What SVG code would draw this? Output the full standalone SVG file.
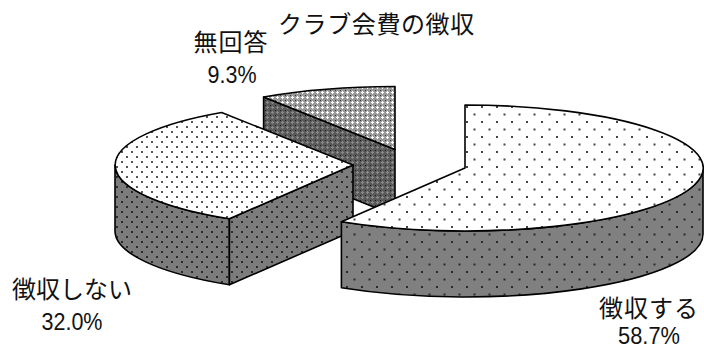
<svg xmlns="http://www.w3.org/2000/svg" width="704" height="350" viewBox="0 0 704 350">
<style>
.edge{stroke:#000;stroke-width:1.6;stroke-linejoin:round}
.jp{font-family:"Noto Sans CJK JP","Liberation Sans",sans-serif;font-size:24px;fill:#111}
.num{font-family:"Liberation Sans",Arial,sans-serif;font-size:23px;fill:#111}
</style>
<defs>
<pattern id="pBigTop" patternUnits="userSpaceOnUse" width="15" height="15">
<rect width="15" height="15" fill="#fff"/>
<rect x="1" y="1" width="2" height="2" fill="#444"/>
<rect x="8.5" y="8.5" width="2" height="2" fill="#444"/>
</pattern>
<pattern id="pBigSide" patternUnits="userSpaceOnUse" width="15" height="15">
<rect width="15" height="15" fill="#808080"/>
<rect x="1" y="1" width="2" height="2" fill="#2a2a2a"/>
<rect x="8.5" y="8.5" width="2" height="2" fill="#2a2a2a"/>
</pattern>
<pattern id="pSmTop" patternUnits="userSpaceOnUse" width="10" height="10">
<rect width="10" height="10" fill="#fff"/>
<rect x="1" y="1" width="2" height="2" fill="#555"/>
<rect x="6" y="6" width="2" height="2" fill="#555"/>
</pattern>
<pattern id="pSmSide" patternUnits="userSpaceOnUse" width="10" height="10">
<rect width="10" height="10" fill="#7c7c7c"/>
<rect x="1" y="1" width="2" height="2" fill="#2a2a2a"/>
<rect x="6" y="6" width="2" height="2" fill="#2a2a2a"/>
</pattern>
<pattern id="pNaTop" patternUnits="userSpaceOnUse" width="5" height="5">
<rect width="5" height="5" fill="#9a9a9a"/>
<rect x="1" y="2" width="3" height="1" fill="#fff"/>
<rect x="2" y="1" width="1" height="3" fill="#fff"/>
<rect x="0" y="0" width="1" height="1" fill="#333"/>
</pattern>
<pattern id="pNaSide" patternUnits="userSpaceOnUse" width="5" height="5">
<rect width="5" height="5" fill="#5a5a5a"/>
<rect x="1" y="2" width="3" height="1" fill="#8a8a8a"/>
<rect x="2" y="1" width="1" height="3" fill="#8a8a8a"/>
<rect x="0" y="0" width="1" height="1" fill="#1a1a1a"/>
</pattern>
</defs>
<rect width="704" height="350" fill="#fff"/>
<g id="slice-na">
<path class="edge" fill="url(#pNaSide)" d="M395,149.5 L263.6,97 L263.6,163 L395,215.5 Z"/>
<path class="edge" fill="url(#pNaTop)" d="M395,149.5 L263.6,97 A238,63 0 0,1 395,86.5 Z"/>
</g>
<g id="slice-no">
<path class="edge" fill="url(#pSmSide)" d="M229.4,218.8 A238,63 0 0,1 115,165 L115,231 A238,63 0 0,0 229.4,284.8 Z"/>
<path class="edge" fill="url(#pSmSide)" d="M353,165 L229.4,218.8 L229.4,284.8 L353,231 Z"/>
<path class="edge" fill="url(#pSmTop)" d="M353,165 L229.4,218.8 A238,63 0 0,1 221.6,112.5 Z"/>
</g>
<g id="slice-yes">
<path class="edge" fill="url(#pBigSide)" d="M341.4,221.8 A238,63 0 0,0 703,168 L703,234 A238,63 0 0,1 341.4,287.8 Z"/>
<path class="edge" fill="url(#pBigTop)" d="M465,168 L465,105 A238,63 0 1,1 341.4,221.8 Z"/>
</g>
<g id="connectors"></g>
<g id="labels">
<text class="jp" x="278" y="33" letter-spacing="0.6">クラブ会費の徴収</text>
<text class="jp" x="231" y="51" text-anchor="middle" letter-spacing="1">無回答</text>
<text class="num" x="232" y="83" text-anchor="middle" textLength="49" lengthAdjust="spacingAndGlyphs">9.3%</text>
<text class="jp" x="72" y="298" text-anchor="middle">徴収しない</text>
<text class="num" x="72" y="330" text-anchor="middle" textLength="61" lengthAdjust="spacingAndGlyphs">32.0%</text>
<text class="jp" x="649" y="317" text-anchor="middle" letter-spacing="1">徴収する</text>
<text class="num" x="649" y="344" text-anchor="middle" textLength="62" lengthAdjust="spacingAndGlyphs">58.7%</text>
</g>
</svg>
